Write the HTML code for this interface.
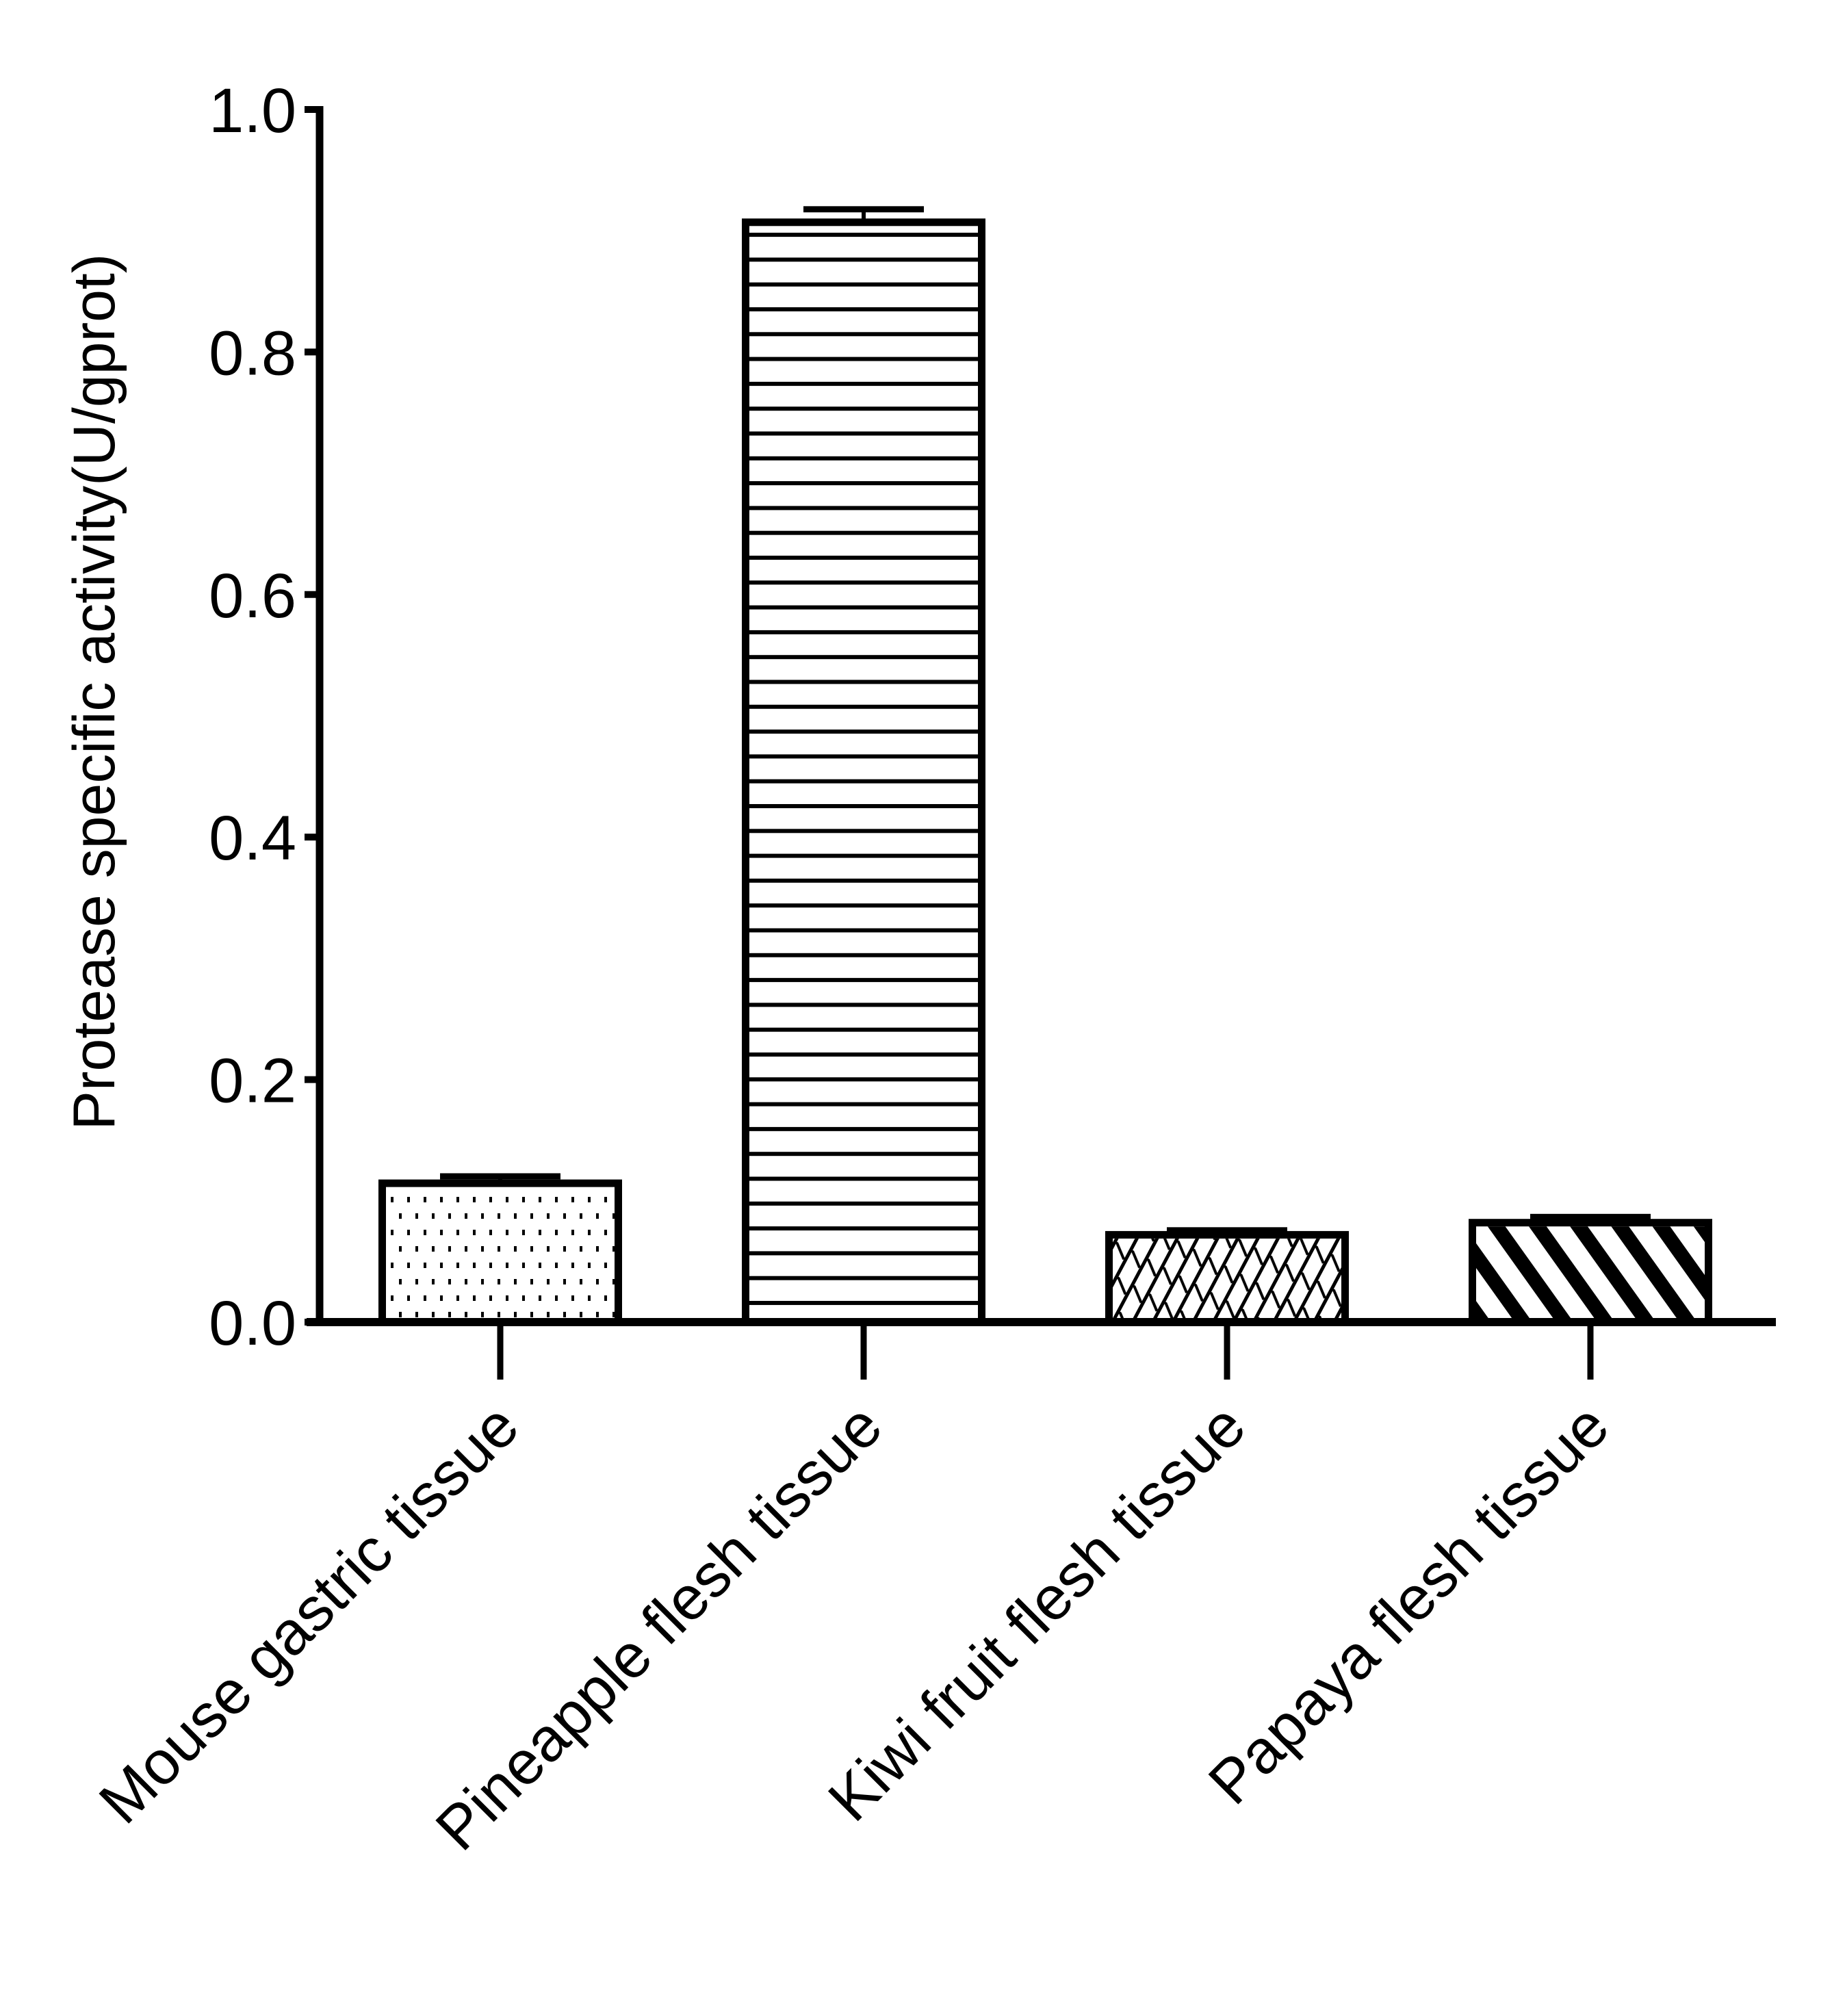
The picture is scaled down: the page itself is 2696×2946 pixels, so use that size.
<!DOCTYPE html>
<html><head><meta charset="utf-8"><style>
html,body{margin:0;padding:0;background:#fff}
svg{display:block}
text{font-family:"Liberation Sans",Arial,sans-serif;fill:#000}
</style></head><body>
<svg id="chart" xmlns="http://www.w3.org/2000/svg" width="2696" height="2946" viewBox="0 0 2696 2946">
<defs>
<pattern id="pDots" patternUnits="userSpaceOnUse" x="567" y="1745" width="24" height="48">
<rect x="4" y="4" width="4" height="8" fill="#000"/>
<rect x="16" y="28" width="4" height="8" fill="#000"/>
</pattern>
<pattern id="pHoriz" patternUnits="userSpaceOnUse" x="0" y="1901" width="50" height="36.3">
<rect x="0" y="0" width="50" height="6" fill="#000"/>
</pattern>
<pattern id="pCross" patternUnits="userSpaceOnUse" width="26" height="44" patternTransform="rotate(28)">
<rect x="0" y="0" width="5" height="44" fill="#000"/>
<line x1="4" y1="0" x2="26" y2="18" stroke="#000" stroke-width="4"/>
</pattern>
<pattern id="pDiag" patternUnits="userSpaceOnUse" x="2150" width="49" height="49" patternTransform="rotate(-35.5)">
<rect x="0" y="0" width="21" height="49" fill="#000"/>
</pattern>
</defs>
<g id="plot"></g>
<text transform="translate(167,1011) rotate(-90)" text-anchor="middle" font-size="86">Protease specific activity(U/gprot)</text>
</svg>
<script>
const categories = ["Mouse gastric tissue","Pineapple flesh tissue","Kiwi fruit flesh tissue","Papaya flesh tissue"];
const values = [0.1145, 0.907, 0.072, 0.082];
const errors = [0.006, 0.011, 0.004, 0.005];
const tickValues = [0, 0.2, 0.4, 0.6, 0.8, 1.0];
const tickLabels = ["0.0","0.2","0.4","0.6","0.8","1.0"];
const fills = ["url(#pDots)","url(#pHoriz)","url(#pCross)","url(#pDiag)"];

const NS = "http://www.w3.org/2000/svg";
const g = document.getElementById("plot");
const y0 = 1932, yScale = 1772;
function yPos(v){ return y0 - v*yScale; }
const xStart = 731, xStep = 531;
function xPos(i){ return xStart + i*xStep; }
function mk(tag, attrs){ const e=document.createElementNS(NS,tag); for(const k in attrs) e.setAttribute(k,attrs[k]); g.appendChild(e); return e; }

categories.forEach((c,i)=>{
  const cx = xPos(i), w = 345, top = yPos(values[i]);
  const r = mk("rect",{x:cx-w/2,y:top,width:w,height:y0-top,fill:"#fff",stroke:"#000","stroke-width":11});
  
  
  const r2 = mk("rect",{x:cx-w/2+5.5,y:top+5.5,width:w-11,height:y0-top-5.5,fill:fills[i]});
  
  
  const et = yPos(values[i]+errors[i]);
  const el = mk("line",{x1:cx,x2:cx,y1:top,y2:et,stroke:"#000","stroke-width":6});
  
  
  const cap = mk("rect",{x:cx-88,y:et-4,width:176,height:9,fill:"#000"});
  
  
  const t = mk("line",{x1:cx,x2:cx,y1:y0,y2:2016,stroke:"#000","stroke-width":9});
  
  
  const lab = mk("text",{transform:"translate("+(cx+32)+",2090) rotate(-45)","text-anchor":"end","font-size":90});
  lab.textContent = c;
  
  
});

const ya = mk("line",{x1:467,x2:467,y1:155,y2:1938,stroke:"#000","stroke-width":11});


const xa = mk("line",{x1:448,x2:2595,y1:y0,y2:y0,stroke:"#000","stroke-width":12});


tickValues.forEach((v,i)=>{
  const y = yPos(v);
  const tk = mk("line",{x1:445,x2:467,y1:y,y2:y,stroke:"#000","stroke-width":10});
  
  
  const tl = mk("text",{x:433,y:y+33,"text-anchor":"end","font-size":92});
  tl.textContent = tickLabels[i];
  
  
});
</script>
</body></html>
